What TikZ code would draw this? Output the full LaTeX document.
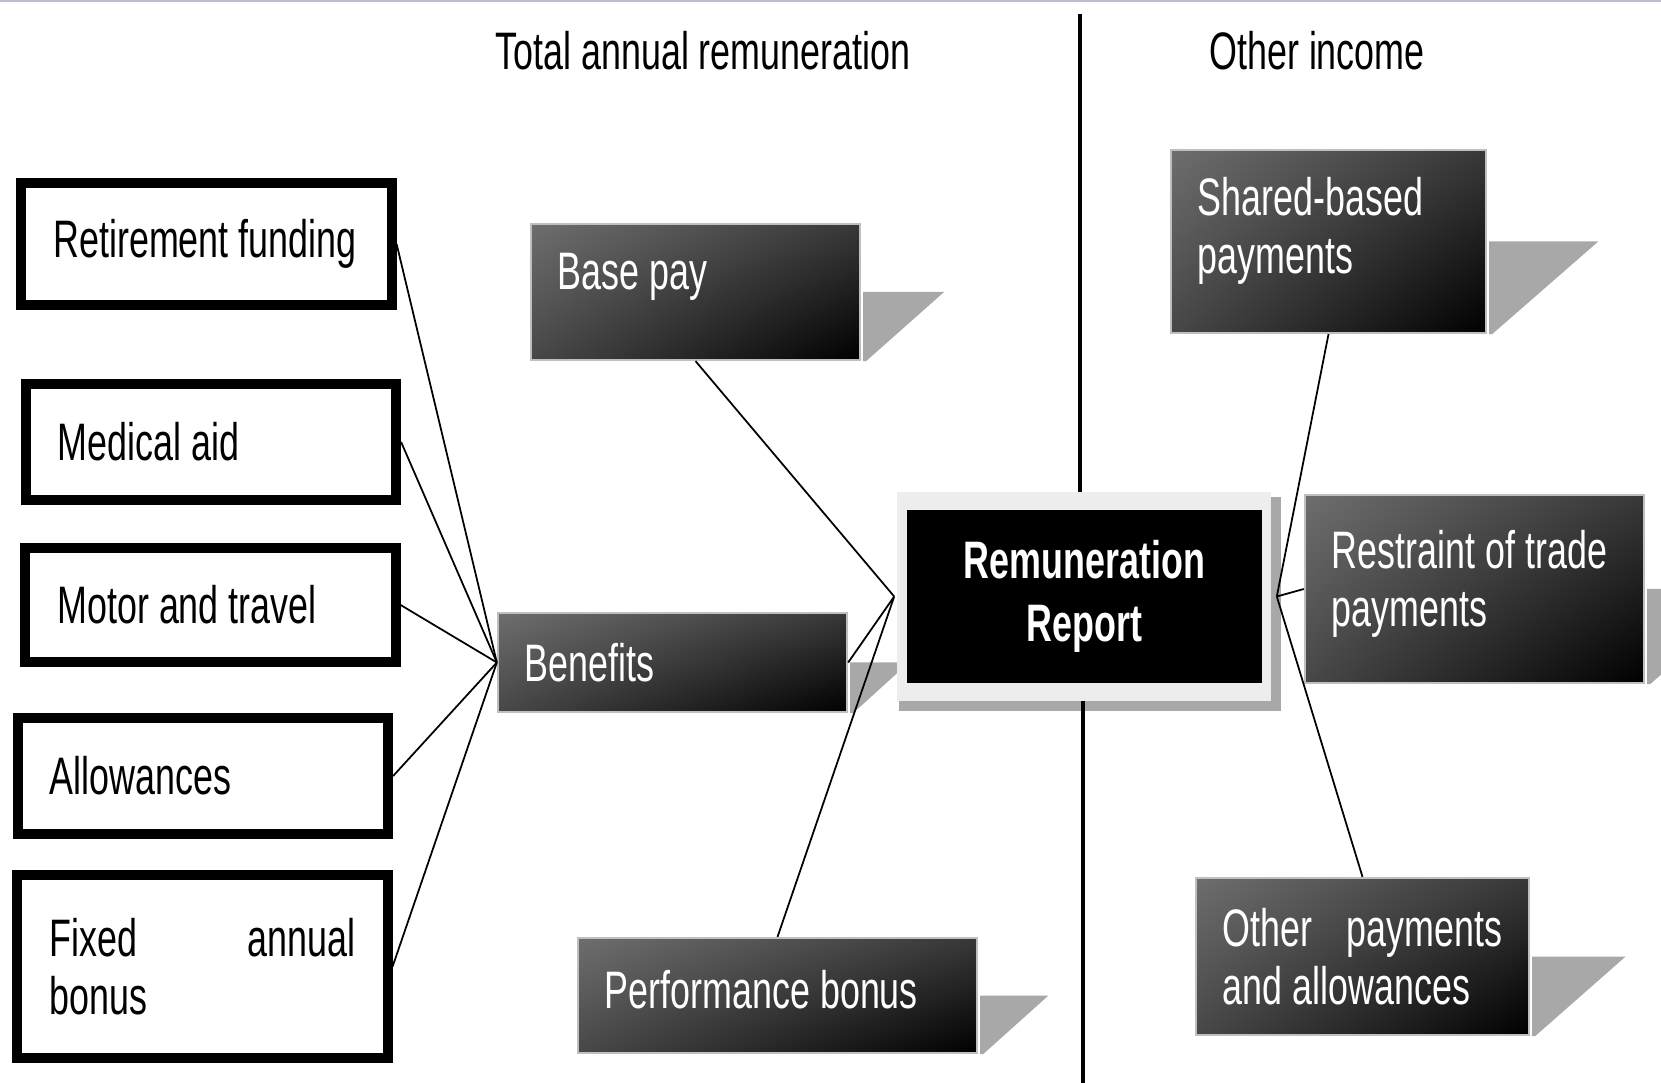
\documentclass[tikz,border=0pt]{standalone}
\usepackage{fontspec}
\setmainfont[FakeStretch=0.68]{Liberation Sans}
\usepackage{tikz}
\usetikzlibrary{
  positioning, calc, backgrounds, shadings
}

\definecolor{rulegray}{RGB}{188,190,204}
\hyphenpenalty=10000

\tikzset{
  leftbox/.style={draw=black, line width=0.1cm, fill=white, align=flush left,
    inner xsep=0.32cm, text width=3.06cm},
  paybox/.style={draw=black!25, line width=0.6pt, align=flush left, text=white,
    inner xsep=0.27cm, shade, upper left=black!57, upper right=black!78,
    lower left=black!72, lower right=black},
  reportbox/.style={fill=black, text=white, align=center,
    font=\fontsize{15}{18}\selectfont\bfseries,
    minimum width=3.55cm, minimum height=1.73cm},
  shadowfill/.style={fill=black!34},
  link/.style={draw=black, line width=0.5pt},
  divider/.style={draw=black, line width=0.045cm},
  heading/.style={anchor=base}
}

\begin{document}
\begin{tikzpicture}[x=0.01cm, y=-0.01cm, every node/.style={font=\fontsize{15}{16.5}\selectfont}]

      \useasboundingbox (0,0) rectangle (1661,1083);
      \fill[rulegray] (0,0) rectangle (1661,2.5);

      % headings
      \node[heading] (totalhead) at (703,70) {Total annual remuneration};
      \node[heading] (otherhead) at (1317,70) {Other income};

      % benefit items
      \node[leftbox, minimum height=1.22cm] (retire) at (206.5,244) {Retirement funding};
      \node[leftbox, minimum height=1.16cm] (medical) at (211,442) {Medical aid};
      \node[leftbox, minimum height=1.14cm] (motor) at (210.5,605) {Motor and travel};
      \node[leftbox, minimum height=1.16cm] (allow) at (203,776) {Allowances};
      \node[leftbox, minimum height=1.83cm] (fixed) at (202.5,966.5) {Fixed\hfill annual\\bonus};

      % remuneration parts
      \node[paybox, text width=2.75cm, minimum height=1.36cm, text depth=0.42cm] (base) at (695.5,292) {Base pay};
      \node[paybox, text width=2.95cm, minimum height=0.99cm] (benefits) at (672.5,662.5) {Benefits};
      \node[paybox, text width=3.45cm, minimum height=1.15cm, text depth=0.13cm] (perf) at (777.5,995.5) {Performance bonus};
      \node[paybox, text width=2.61cm, minimum height=1.83cm, text depth=0.91cm] (shared) at (1328.5,241.5) {Shared-based\\payments};
      \node[paybox, text width=2.85cm, minimum height=1.88cm, text depth=0.8cm] (restraint) at (1474.5,589) {Restraint of trade\\payments};
      \node[paybox, text width=2.79cm, minimum height=1.57cm] (other) at (1362.5,956.5) {Other\hfill payments\\and allowances};

      \node[reportbox] (report) at (1084.5,596.5) {Remuneration\\Report};
      \coordinate (frameNW) at ([shift={(-9,-17)}]report.north west);
      \coordinate (frameSE) at ([shift={(8,17)}]report.south east);

      \begin{scope}[on background layer]
        \foreach \b in {base, benefits, perf, shared, restraint, other}
          \fill[shadowfill] let \p1=(\b.east), \p2=(\b.south east) in
            ([shift={(2,0)}]\b.east) -- ({\x1+1.2*(\y1-\y2)},\y1)
            -- ([shift={(5,0)}]\b.south east) -- ([shift={(2,0)}]\b.south east) -- cycle;
        \fill[shadowfill] ([shift={(2,5)}]frameNW) rectangle ([shift={(10,10)}]frameSE);
        \fill[black!7] (frameNW) rectangle (frameSE);
      \end{scope}

      % dividing line
      \coordinate (divtop) at (1080,14);
      \coordinate (divbot) at (1083,1083);
      \draw[divider] (divtop) -- (divtop |- frameNW);
      \draw[divider] (divbot |- frameSE) -- (divbot);

      % connectors
      \coordinate (hubL) at ([shift={(-12,0)}]report.west);
      \coordinate (hubR) at ([shift={(14,0)}]report.east);
      \foreach \b in {retire, medical, motor, allow, fixed}
        \draw[link] (\b.east) -- (benefits.west);
      \foreach \b in {base.south, benefits.east, perf.north}
        \draw[link] (\b) -- (hubL);
      \foreach \b in {shared.south, restraint.west, other.north}
        \draw[link] (hubR) -- (\b);

    \end{tikzpicture}
\end{document}
